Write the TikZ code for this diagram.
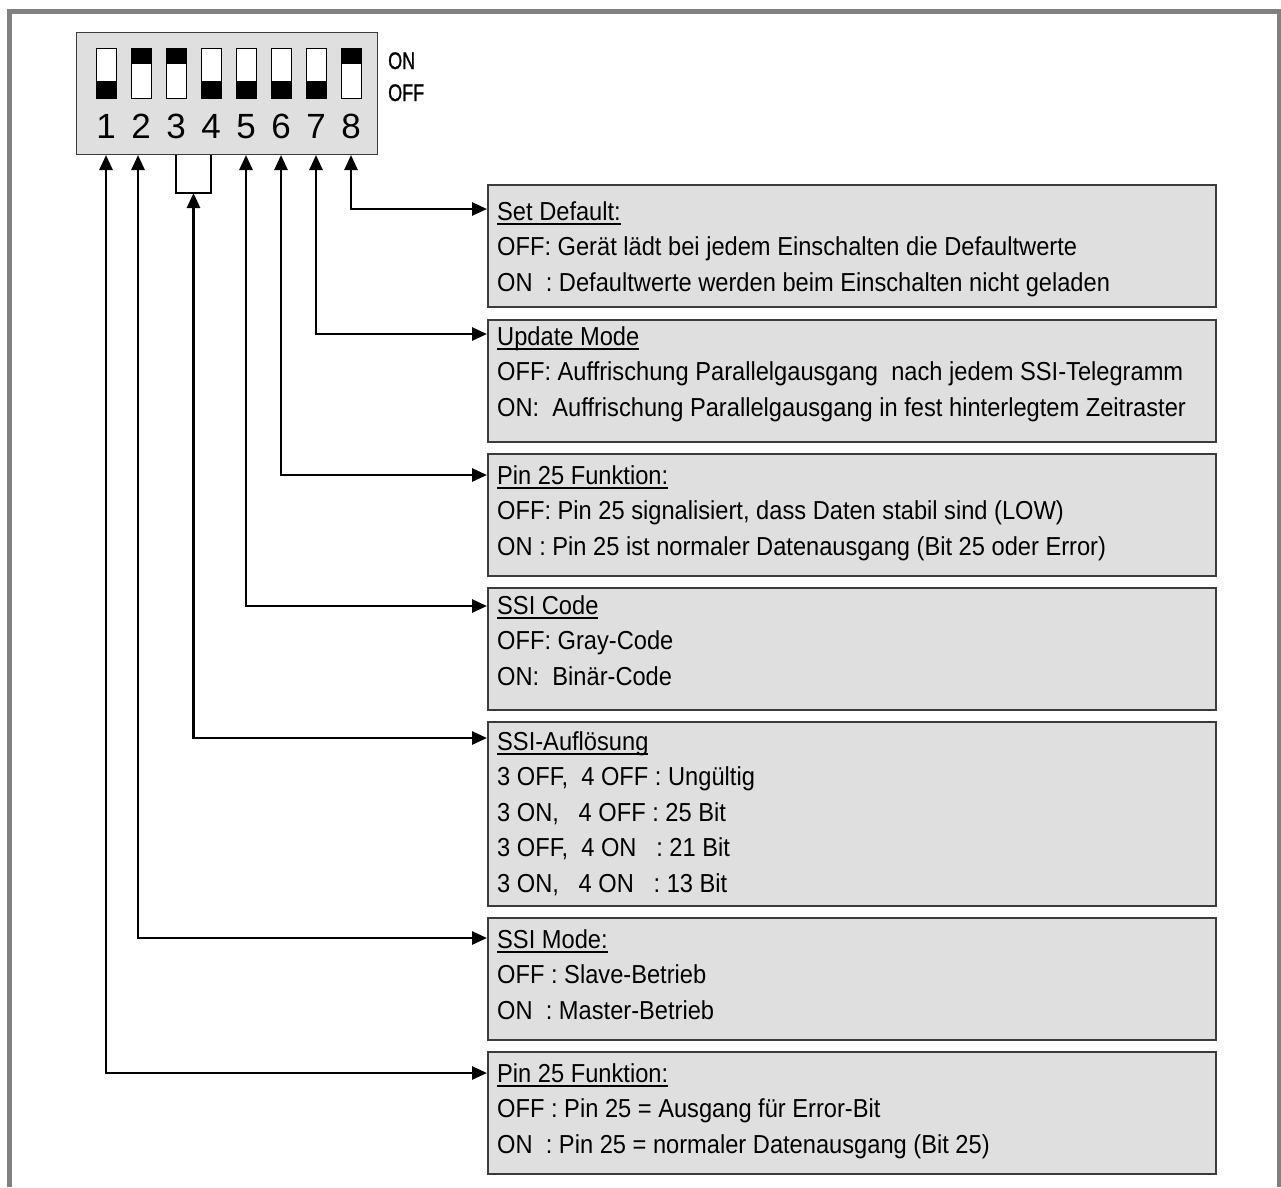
\documentclass[tikz,border=0pt]{standalone}
\usepackage{fontspec}
\setmainfont{Liberation Sans}[FakeStretch=0.91]
\newfontfamily\statefont{Liberation Sans}[FakeStretch=0.75, FakeBold=1]
\newfontfamily\digitfont{Liberation Sans}
\usetikzlibrary{arrows.meta, positioning}

\definecolor{boxfill}{HTML}{DFDFDF}
\definecolor{boxline}{HTML}{3C3C3C}
\definecolor{framegray}{HTML}{808080}

\newsavebox\ulbox
\newcommand\uln[1]{\sbox\ulbox{#1}\rlap{\rule[-4.5pt]{\wd\ulbox}{1.3pt}}\usebox\ulbox}

\begin{document}
\begin{tikzpicture}[x=1pt, y=-1pt,
  frame/.style={draw=framegray, line width=5pt},
  dip/.style={draw=boxline, fill=boxfill, line width=1pt, anchor=north west,
              minimum width=301pt, minimum height=122pt, inner sep=0pt},
  slot/.style={draw=black, fill=white, line width=0.8pt, minimum width=20pt,
               minimum height=50pt, inner sep=0pt},
  pinnum/.style={font=\digitfont\fontsize{35}{35}\selectfont, anchor=base, inner sep=0pt},
  state/.style={font=\statefont\fontsize{24}{24}\selectfont, anchor=base west, inner sep=0pt},
  infobox/.style={draw=boxline, fill=boxfill, line width=1.5pt, anchor=north west,
                  minimum width=728pt, minimum height=122pt, inner sep=0pt},
  infotext/.style={font=\fontsize{26}{35.5}\selectfont, align=left, inner sep=0pt},
  arr/.style={{Triangle[length=15pt,width=13pt]}-{Triangle[length=15pt,width=13pt]},
              line width=2.7pt}
]
  \useasboundingbox (0,0) rectangle (1281,1187);
  \draw[frame] (9.5,1187) -- (9.5,11.5) -- (1279.5,11.5) -- (1279.5,1187);

  % DIP switch
  \node[dip] (dip) at (76,32) {};
  \foreach \i in {1,...,8} {
    \node[slot] (s\i) at ({106+35*(\i-1)},73) {};
    \node[pinnum] (n\i) at ({106+35*(\i-1)},138) {\i};
  }
  \foreach \i in {2,3,8}
    \fill (s\i.north west) rectangle ([yshift=-16pt]s\i.north east);
  \foreach \i in {1,4,5,6,7}
    \fill (s\i.south west) rectangle ([yshift=17pt]s\i.south east);
  \node[state] (on)  at (388,69)  {ON};
  \node[state] (off) at (388,101) {OFF};

  % info boxes
  \node[infobox] (set) at (487,184) {};
  \node[infotext, below right=17pt and 10pt of set.north west] (settxt)
    {\uln{Set Default:}\\
     OFF: Gerät lädt bei jedem Einschalten die Defaultwerte\\
     ON\ \ : Defaultwerte werden beim Einschalten nicht geladen};

  \node[infobox] (upd) at (487,319) {};
  \node[infotext, below right=7pt and 10pt of upd.north west] (updtxt)
    {\uln{Update Mode}\\
     OFF: Auffrischung Parallelgausgang\ \ nach jedem SSI-Telegramm\\
     ON:\ \ Auffrischung Parallelgausgang in fest hinterlegtem Zeitraster};

  \node[infobox] (pin) at (487,453) {};
  \node[infotext, below right=12pt and 10pt of pin.north west] (pintxt)
    {\uln{Pin 25 Funktion:}\\
     OFF: Pin 25 signalisiert, dass Daten stabil sind (LOW)\\
     ON : Pin 25 ist normaler Datenausgang (Bit 25 oder Error)};

  \node[infobox] (code) at (487,587) {};
  \node[infotext, below right=8pt and 10pt of code.north west] (codetxt)
    {\uln{SSI Code}\\
     OFF: Gray-Code\\
     ON:\ \ Binär-Code};

  \node[infobox, minimum height=184pt] (res) at (487,721) {};
  \node[infotext, below right=10pt and 10pt of res.north west] (restxt)
    {\uln{SSI-Auflösung}\\
     3 OFF,\ \ 4 OFF : Ungültig\\
     3 ON,\ \ \ 4 OFF : 25 Bit\\
     3 OFF,\ \ 4 ON\ \ \ : 21 Bit\\
     3 ON,\ \ \ 4 ON\ \ \ : 13 Bit};

  \node[infobox] (mode) at (487,917) {};
  \node[infotext, below right=12pt and 10pt of mode.north west] (modetxt)
    {\uln{SSI Mode:}\\
     OFF : Slave-Betrieb\\
     ON\ \ : Master-Betrieb};

  \node[infobox] (err) at (487,1051) {};
  \node[infotext, below right=12pt and 10pt of err.north west] (errtxt)
    {\uln{Pin 25 Funktion:}\\
     OFF : Pin 25 = Ausgang für Error-Bit\\
     ON\ \ : Pin 25 = normaler Datenausgang (Bit 25)};

  % connectors
  \coordinate (br3) at (176,193);
  \coordinate (br4) at (211,193);
  \coordinate (br)  at (193.5,193);
  \draw[line width=1.5pt] (s3 |- dip.south) -- (br3) -- (br4) -- (s4 |- dip.south);

  \draw[arr] (s8 |- dip.south) |- ([yshift=-25pt]set.north west);
  \draw[arr] (s7 |- dip.south) |- ([yshift=-15pt]upd.north west);
  \draw[arr] (s6 |- dip.south) |- ([yshift=-22pt]pin.north west);
  \draw[arr] (s5 |- dip.south) |- ([yshift=-19pt]code.north west);
  \draw[arr] (br) |- ([yshift=-17pt]res.north west);
  \draw[arr] ([xshift=-3pt]s2 |- dip.south) |- ([yshift=-21pt]mode.north west);
  \draw[arr] (s1 |- dip.south) |- ([yshift=-22pt]err.north west);
\end{tikzpicture}
\end{document}
